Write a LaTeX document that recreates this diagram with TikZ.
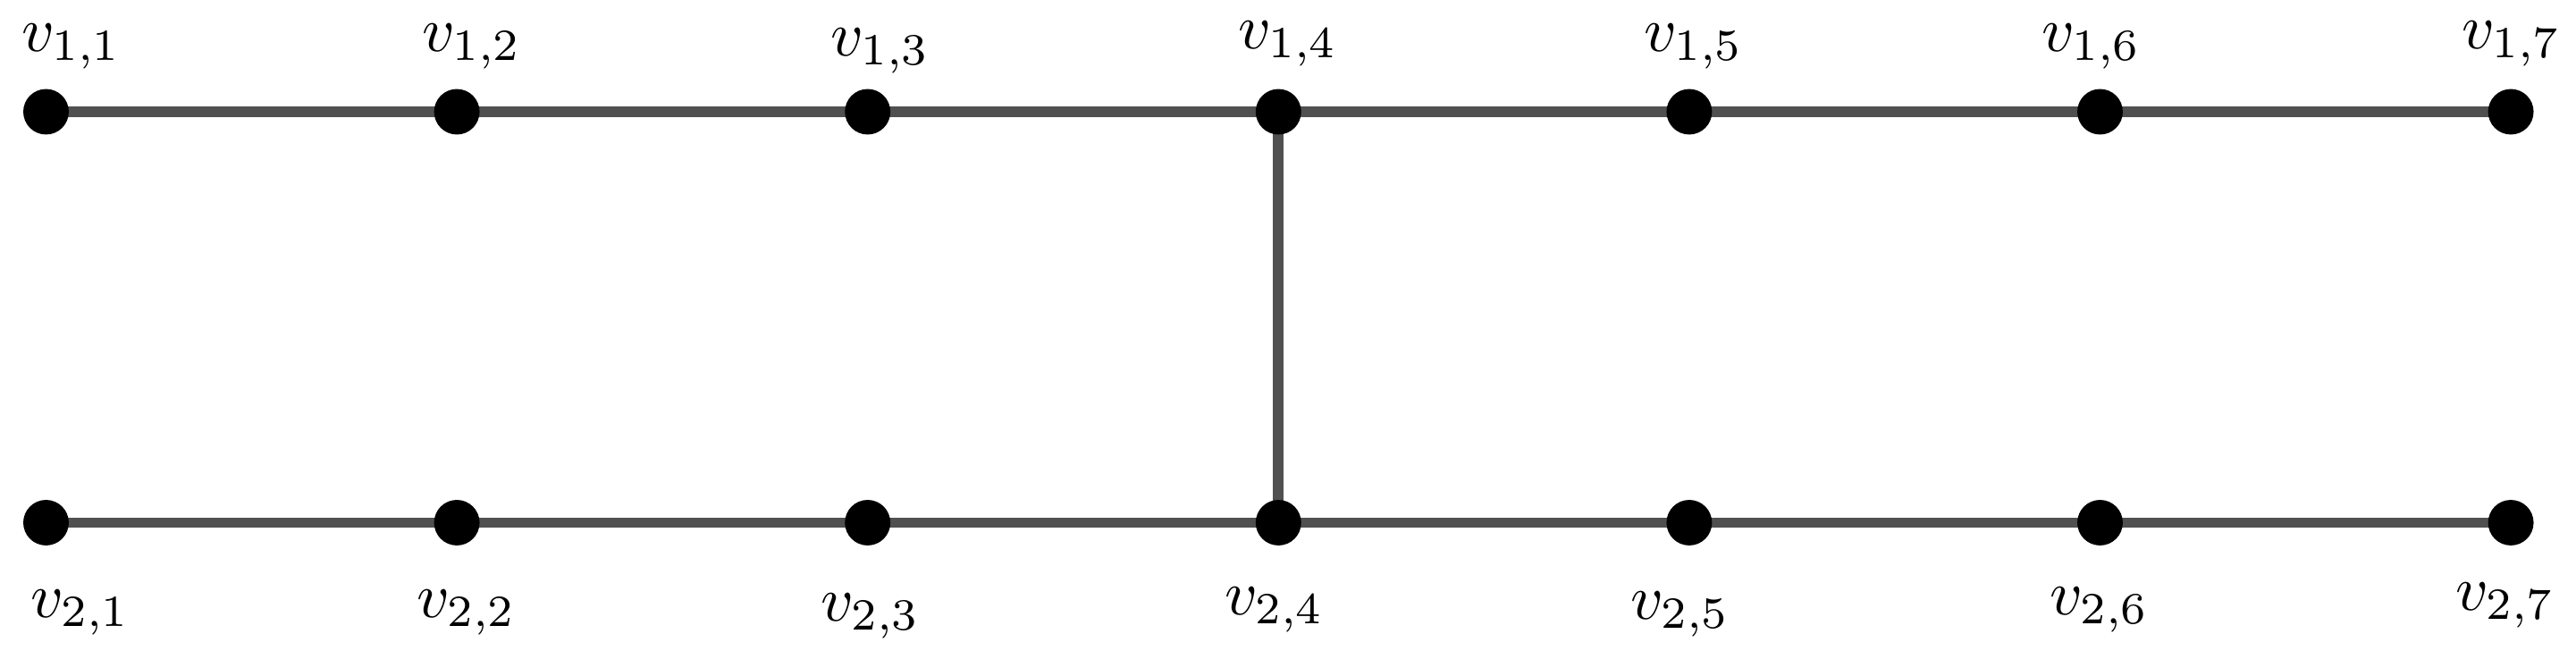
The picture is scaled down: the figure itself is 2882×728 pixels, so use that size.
\documentclass[tikz,border=0pt]{standalone}
\usetikzlibrary{backgrounds}
\definecolor{edgegray}{RGB}{80,80,80}
\newcommand{\lbltext}[1]{\scalebox{0.88}{$#1$}}
\begin{document}
\begin{tikzpicture}[x=0.0043516cm,y=-0.0043516cm,
  vtx/.style={circle,fill=black,inner sep=0pt,minimum size=6.3pt},
  edgeline/.style={line width=1.45pt,draw=edgegray},
  lbl/.style={inner sep=0pt,anchor=north}]
\useasboundingbox (0,0) rectangle (2882,728);
% vertices
\foreach \i/\x in {1/51.5,2/511.1,3/970.7,4/1430.3,5/1889.9,6/2349.5,7/2809.1}{
  \node[vtx] (v1\i) at (\x,125) {};
  \node[vtx] (v2\i) at (\x,584.5) {};
}
% labels
\foreach \i/\x/\y in {1/80/25,2/528/25,3/985/30,4/1441/22,5/1895/25,6/2340/25,7/2810/22}{
  \node[lbl] (l1\i) at (\x,\y) {\lbltext{v_{1,\i}}};
}
\foreach \i/\x/\y in {1/90/658,2/522/658,3/974/662,4/1426/655,5/1880/660,6/2349/655,7/2803/650}{
  \node[lbl] (l2\i) at (\x,\y) {\lbltext{v_{2,\i}}};
}
% edges
\begin{scope}[on background layer]
\draw[edgeline] (v11.center) -- (v12.center) -- (v13.center) -- (v14.center) -- (v15.center) -- (v16.center) -- (v17.center);
\draw[edgeline] (v21.center) -- (v22.center) -- (v23.center) -- (v24.center) -- (v25.center) -- (v26.center) -- (v27.center);
\draw[edgeline] (v14.center) -- (v24.center);
\end{scope}
\end{tikzpicture}
\end{document}
